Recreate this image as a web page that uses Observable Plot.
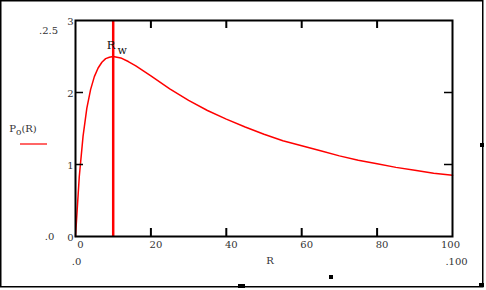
<!DOCTYPE html>
<html><head><meta charset="utf-8">
<script src="https://cdn.jsdelivr.net/npm/d3@7"></script>
<script src="https://cdn.jsdelivr.net/npm/@observablehq/plot@0.6"></script>
<style>html,body{margin:0;padding:0;background:#fff;}</style>
</head><body><div id="chart"></div>
<script>
// Curve P_o(R)
const R = [0,1,2,3,4,5,6,7,8,9,10,12,14,16,18,20,25,30,35,40,45,50,55,60,65,70,75,80,85,90,95,100];
const P = [0,0.83,1.39,1.78,2.04,2.22,2.34,2.42,2.47,2.49,2.50,2.48,2.43,2.37,2.30,2.23,2.05,1.89,1.75,1.63,1.52,1.42,1.33,1.26,1.19,1.12,1.06,1.01,0.96,0.92,0.88,0.85];
const Rw = 10;
const xTicks = [0,20,40,60,80,100];
const yTicks = [0,1,2,3];
const xInner = [20,40,60,80];
const yInner = [1,2];
const xDomain = [0,100];
const yDomain = [0,3];
const xLimitLabels = [".0", ".100"];
const yLimitLabels = [".0", ".2.5"];
const xLabel = "R";
const markerName = ["R","w"];
const legendName = ["P","o","(R)"];

const data = R.map((r,i) => ({R: r, P: P[i]}));
const font = "DejaVu Serif";
const txt = "#333";

const chart = Plot.plot({
  width: 486, height: 290,
  marginLeft: 75, marginRight: 34, marginTop: 20, marginBottom: 54,
  style: {fontFamily: font, fontSize: "10px", background: "white", color: txt, overflow: "visible"},
  x: {domain: xDomain, axis: null},
  y: {domain: yDomain, axis: null},
  marks: [
    Plot.line(data, {x: "R", y: "P", stroke: "red", strokeWidth: 1.5}),
    Plot.ruleX([Rw], {x: d => d, stroke: "red", strokeWidth: 2.5}),
    Plot.frame({stroke: "black", strokeWidth: 2}),
    // inward ticks
    Plot.ruleX(xInner, {x: d => d, y1: yDomain[0], y2: yDomain[0], insetBottom: 8, stroke: "black", strokeWidth: 2}),
    Plot.ruleX(xInner, {x: d => d, y1: yDomain[1], y2: yDomain[1], insetTop: 8, stroke: "black", strokeWidth: 2}),
    Plot.ruleY(yInner, {y: d => d, x1: xDomain[0], x2: xDomain[0], insetRight: -8, stroke: "black", strokeWidth: 1.5}),
    Plot.ruleY(yInner, {y: d => d, x1: xDomain[1], x2: xDomain[1], insetLeft: -8, stroke: "black", strokeWidth: 1.5}),
    // tick labels
    Plot.text(yTicks, {x: xDomain[0], y: d => d, text: d => String(d), textAnchor: "end", dx: -2, dy: 1, fill: txt}),
    Plot.text(xTicks, {filter: d => d < 100, x: d => d, y: yDomain[0], text: d => String(d), dx: 5, dy: 8, fill: txt}),
    Plot.text(xTicks, {filter: d => d === 100, x: d => d, y: yDomain[0], text: d => String(d), dx: -2, dy: 8, fill: txt}),
    // axis title
    Plot.text([xLabel], {x: (xDomain[0] + xDomain[1]) / 2, y: yDomain[0], text: d => d, dx: 6, dy: 24, fill: txt}),
    // Mathcad limit placeholders
    Plot.text([yLimitLabels[0]], {x: xDomain[0], y: yDomain[0], text: d => d, dx: -26, dy: 0, fill: txt}),
    Plot.text([yLimitLabels[1]], {x: xDomain[0], y: yDomain[1], text: d => d, dx: -27, dy: 10, fill: txt}),
    Plot.text([xLimitLabels[0]], {x: xDomain[0], y: yDomain[0], text: d => d, dx: 1, dy: 25, fill: txt}),
    Plot.text([xLimitLabels[1]], {x: xDomain[1], y: yDomain[0], text: d => d, dx: 4, dy: 25, fill: txt}),
    // R_w marker label
    Plot.text([Rw], {x: d => d, y: yDomain[1], text: () => markerName[0], dx: -2, dy: 25, fontSize: 11.5, fill: "#111"}),
    Plot.text([Rw], {x: d => d, y: yDomain[1], text: () => markerName[1], dx: 9, dy: 30, fontSize: 11, fill: "#111"})
  ]
});

const svg = d3.select(chart);
// outer border and Mathcad handles
svg.append("rect").attr("x", 0.75).attr("y", 0.75).attr("width", 482).attr("height", 286)
  .attr("fill", "none").attr("stroke", "black").attr("stroke-width", 1.5);
[[480,143,4,4],[238,284,7,4],[329,275,4,4],[479,283,5,4]].forEach(([x,y,w,h]) =>
  svg.append("rect").attr("x", x).attr("y", y).attr("width", w).attr("height", h).attr("fill", "black"));
// legend
const lt = svg.append("text").attr("x", 23).attr("y", 131.5)
  .attr("font-family", font).attr("font-size", 10).attr("fill", txt);
lt.append("tspan").text(legendName[0]);
lt.append("tspan").attr("dy", 3).attr("font-size", 9).text(legendName[1]);
lt.append("tspan").attr("dy", -3).text(legendName[2]);
svg.append("line").attr("x1", 20).attr("x2", 47).attr("y1", 144).attr("y2", 144)
  .attr("stroke", "red").attr("stroke-width", 1.2);

document.getElementById("chart").appendChild(chart);
</script>
</body></html>
